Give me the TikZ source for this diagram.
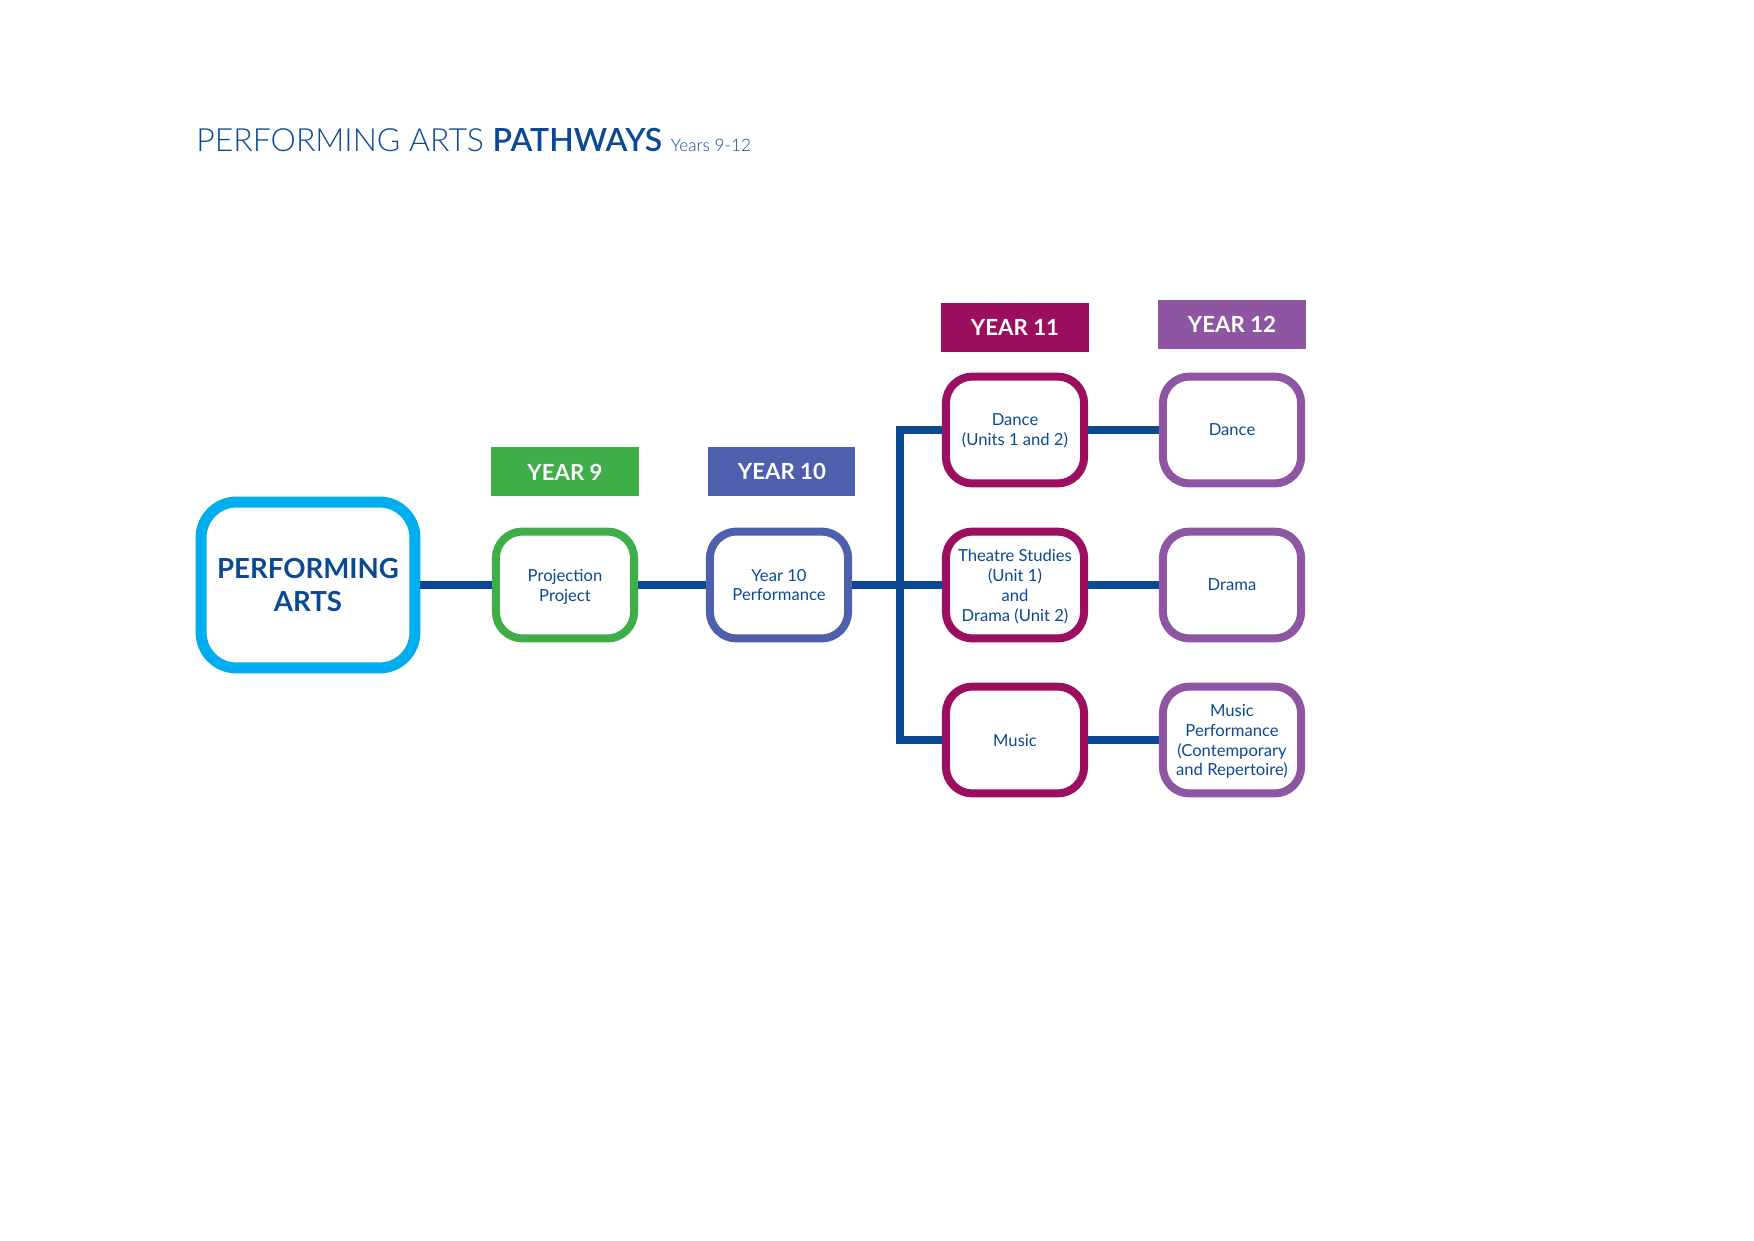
\documentclass[tikz,border=0pt]{standalone}
\usepackage{fontspec}
\setmainfont{Lato}
\IfFontExistsTF{Lato Light}{\newfontfamily\thinfont{Lato Light}}{\newfontfamily\thinfont{Lato}}
\IfFontExistsTF{Lato Semibold}{\newfontfamily\semifont{Lato Semibold}}{\newfontfamily\semifont{Lato}[FontFace={m}{n}{Font=*-Bold}]}
\usetikzlibrary{positioning}

\definecolor{navy}{HTML}{0B4A93}
\definecolor{skyblue}{HTML}{00AEEF}
\definecolor{grass}{HTML}{3FAE49}
\definecolor{slate}{HTML}{4E5FAD}
\definecolor{plum}{HTML}{9B0F5E}
\definecolor{lilac}{HTML}{8E55A3}

\begin{document}
\begin{tikzpicture}[x=0.16933mm, y=-0.16933mm,
every node/.style={text=navy, align=center},
start/.style={rectangle, draw=skyblue, line width=1.86mm, rounded corners=6mm, fill=white, minimum width=36.2mm, minimum height=28.1mm, font=\bfseries\fontsize{13.3}{15.6}\selectfont},
course/.style={rectangle, line width=1.35mm, rounded corners=4.5mm, fill=white, inner sep=0pt, text depth=0pt, minimum width=23.4mm, minimum height=18.1mm, font=\fontsize{8}{9.6}\selectfont},
year/.style={rectangle, text=white, inner sep=0pt, minimum width=24.9mm, minimum height=8.3mm, font=\bfseries\fontsize{10.7}{12}\selectfont},
link/.style={draw=navy, line width=1.3mm}
]
\useasboundingbox (0,0) rectangle (1754,1240);

\node [anchor=base west, inner sep=0pt, font=\fontsize{15.4}{18}\selectfont] (title) at (196,151) {\thinfont PERFORMING ARTS {\semifont PATHWAYS} {\thinfont\fontsize{8.3}{10}\selectfont Years 9-12}};

\node [start] (arts) at (308,585) {PERFORMING\\ARTS};

\node [course, draw=grass] (proj) at (565,585) {Projection\\Project};
\node [course, draw=slate] (perf) at (779,585) {Year 10\\Performance};

\node [course, draw=plum] (dance11) at (1015,430) {Dance\\(Units 1 and 2)};
\node [course, draw=plum] (theatre11) at (1015,585) {Theatre Studies\\(Unit 1)\\and\\Drama (Unit 2)};
\node [course, draw=plum] (music11) at (1015,740) {Music};

\node [course, draw=lilac] (dance12) at (1232,430) {Dance};
\node [course, draw=lilac] (drama12) at (1232,585) {Drama};
\node [course, draw=lilac] (music12) at (1232,740) {Music\\Performance\\(Contemporary\\and Repertoire)};

\node [year, fill=grass] (y9) [above=5.2mm of proj] {YEAR 9};
\node [year, fill=slate, xshift=0.5mm] (y10) [above=5.2mm of perf] {YEAR 10};
\node [year, fill=plum] (y11) [above=3.4mm of dance11] {YEAR 11};
\node [year, fill=lilac] (y12) [above=3.9mm of dance12] {YEAR 12};

\coordinate (split) at (900,585);

\draw [link] (arts) -- (proj);
\draw [link] (proj) -- (perf);
\draw [link] (perf) -- (theatre11);
\draw [link] (dance11.west) -| (split) |- (music11.west);

\draw [link] (dance11) -- (dance12);
\draw [link] (theatre11) -- (drama12);
\draw [link] (music11) -- (music12);

\end{tikzpicture}
\end{document}
